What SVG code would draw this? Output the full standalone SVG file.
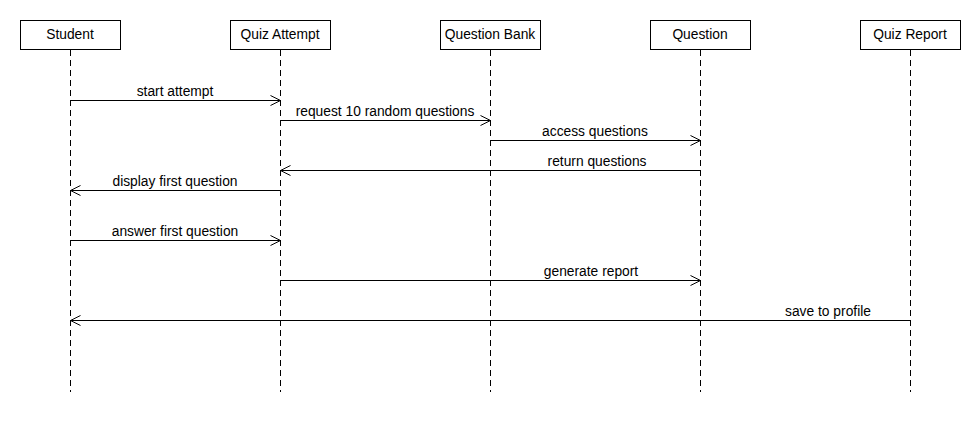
<svg xmlns="http://www.w3.org/2000/svg" width="980" height="430" viewBox="0 0 980 430">
<style>
text{font-family:"Liberation Sans",Arial,sans-serif;font-size:13.8px;fill:#000}
.box{fill:#fff;stroke:#000;stroke-width:1}
.life{stroke:#000;stroke-width:1;stroke-dasharray:6 4;fill:none}
.msg{stroke:#000;stroke-width:1;fill:none}
</style>
<defs>
<marker id="open" viewBox="0 0 12 12" refX="11" refY="6" markerWidth="12" markerHeight="12" markerUnits="userSpaceOnUse" orient="auto">
<path d="M1,1 L11,6 L1,11" fill="none" stroke="#000" stroke-width="1"/>
</marker>
</defs>
<rect width="980" height="430" fill="#fff"/>
<g id="student">
<rect class="box" x="20.5" y="20.5" width="100" height="29"/>
<text x="70" y="38.5" text-anchor="middle">Student</text>
<line class="life" x1="70.5" y1="50" x2="70.5" y2="392"/>
</g>
<g id="quiz-attempt">
<rect class="box" x="230.5" y="20.5" width="100" height="29"/>
<text x="280" y="38.5" text-anchor="middle">Quiz Attempt</text>
<line class="life" x1="280.5" y1="50" x2="280.5" y2="392"/>
</g>
<g id="question-bank">
<rect class="box" x="440.5" y="20.5" width="100" height="29"/>
<text x="490" y="38.5" text-anchor="middle">Question Bank</text>
<line class="life" x1="490.5" y1="50" x2="490.5" y2="392"/>
</g>
<g id="question">
<rect class="box" x="650.5" y="20.5" width="100" height="29"/>
<text x="700" y="38.5" text-anchor="middle">Question</text>
<line class="life" x1="700.5" y1="50" x2="700.5" y2="392"/>
</g>
<g id="quiz-report">
<rect class="box" x="860.5" y="20.5" width="100" height="29"/>
<text x="910" y="38.5" text-anchor="middle">Quiz Report</text>
<line class="life" x1="910.5" y1="50" x2="910.5" y2="392"/>
</g>
<g id="connectors">
<line class="msg" x1="70.5" y1="100.5" x2="280.5" y2="100.5" marker-end="url(#open)"/>
<text x="175" y="96" text-anchor="middle">start attempt</text>
<line class="msg" x1="280.5" y1="120.5" x2="490.5" y2="120.5" marker-end="url(#open)"/>
<text x="385" y="116" text-anchor="middle">request 10 random questions</text>
<line class="msg" x1="490.5" y1="140.5" x2="700.5" y2="140.5" marker-end="url(#open)"/>
<text x="595" y="136" text-anchor="middle">access questions</text>
<line class="msg" x1="700.5" y1="170.5" x2="280.5" y2="170.5" marker-end="url(#open)"/>
<text x="597" y="166" text-anchor="middle">return questions</text>
<line class="msg" x1="280.5" y1="190.5" x2="70.5" y2="190.5" marker-end="url(#open)"/>
<text x="175" y="186" text-anchor="middle">display first question</text>
<line class="msg" x1="70.5" y1="240.5" x2="280.5" y2="240.5" marker-end="url(#open)"/>
<text x="175" y="236" text-anchor="middle">answer first question</text>
<line class="msg" x1="280.5" y1="280.5" x2="700.5" y2="280.5" marker-end="url(#open)"/>
<text x="591" y="276" text-anchor="middle">generate report</text>
<line class="msg" x1="910.5" y1="320.5" x2="70.5" y2="320.5" marker-end="url(#open)"/>
<text x="828" y="316" text-anchor="middle">save to profile</text>
</g>
</svg>
